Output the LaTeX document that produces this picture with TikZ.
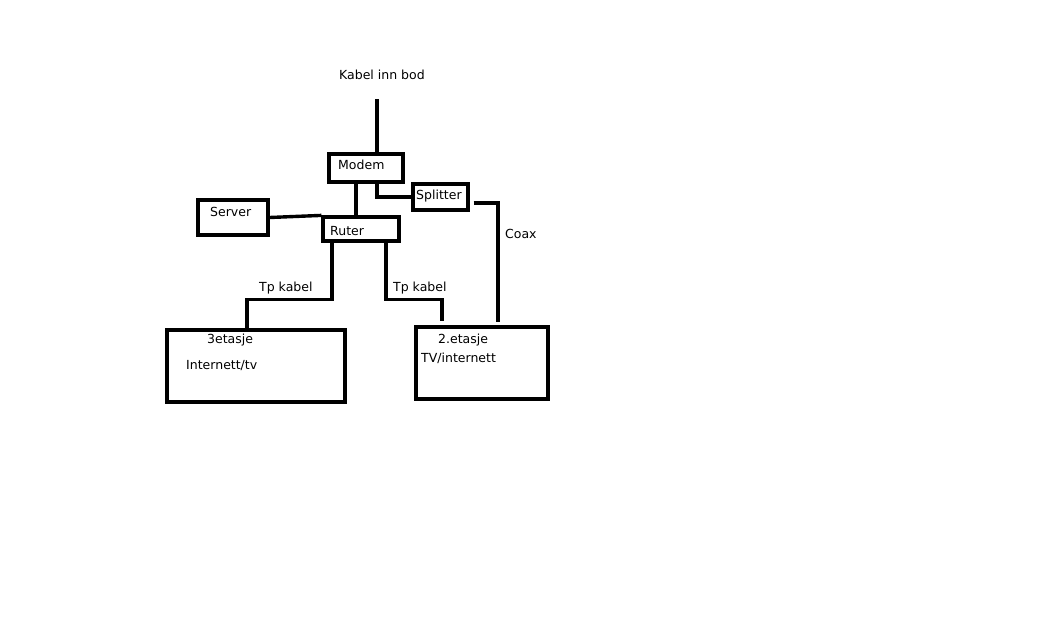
\documentclass[tikz,border=0pt]{standalone}
\usepackage{fontspec}
\setmainfont{DejaVu Sans}
\usepackage{tikz}
\usetikzlibrary{positioning}
\tikzstyle{box} = [rectangle, draw=black, line width=3.2pt, inner sep=0pt]
\tikzstyle{txt} = [anchor=west, inner sep=0pt, font=\fontsize{12.5}{14}\selectfont]
\tikzstyle{line} = [line width=3.4pt]

\begin{document}
\begin{tikzpicture}[x=1pt, y=-1pt]
  \useasboundingbox (0,0) rectangle (1060,618);

  \node (kabel) [txt] at (339,75) {Kabel inn bod};
  \coordinate (kabelend) at (377,99);

  \node (modem) [box, minimum width=74pt, minimum height=28pt] at (366,168) {};
  \node (modemtxt) [txt] at (338,165) {Modem};
  \node (splitter) [box, minimum width=55pt, minimum height=26pt] at (440.5,197) {};
  \node (splittertxt) [txt] at (416,196) {Splitter};
  \node (server) [box, minimum width=70pt, minimum height=35pt] at (233,217.5) {};
  \node (servertxt) [txt] at (210,212) {Server};
  \node (ruter) [box, minimum width=76pt, minimum height=24pt] at (361,229) {};
  \node (rutertxt) [txt] at (330,231) {Ruter};
  \node (coax) [txt] at (505,234) {Coax};
  \node (tpl) [txt] at (259,288) {Tp kabel};
  \node (tpr) [txt] at (393,288) {Tp kabel};
  \node (etg3) [box, minimum width=178pt, minimum height=72pt] at (256,366) {};
  \node (etg3txt) [txt] at (207,340) {3etasje};
  \node (etg3sub) [txt] at (186,366) {Internett/tv};
  \node (etg2) [box, minimum width=132pt, minimum height=72pt] at (482,363) {};
  \node (etg2txt) [txt] at (438,340) {2.etasje};
  \node (etg2sub) [txt] at (421,358) {TV/internett};
  \coordinate (coaxend) at (498,322);

  \draw[line] (kabelend) -- (kabelend |- modem.north);
  \draw[line] ([xshift=-10pt]modem.south) -- ([xshift=-5pt]ruter.north);
  \draw[line] ([xshift=11pt]modem.south) |- (splitter.west);
  \draw[line] ([xshift=4pt,yshift=-6pt]splitter.east) -| (coaxend);
  \draw[line] (server.east) -- (ruter.north west);
  \draw[line] ([xshift=-29pt]ruter.south) -- ++(0,57) -| ([xshift=-9pt]etg3.north);
  \draw[line] ([xshift=25pt]ruter.south) -- ++(0,57) -| ([xshift=-40pt,yshift=4pt]etg2.north);
\end{tikzpicture}
\end{document}
